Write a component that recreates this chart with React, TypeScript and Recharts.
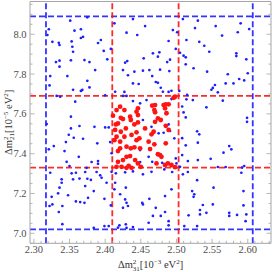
import React from 'react';
import { ScatterChart, Scatter, XAxis, YAxis, ReferenceLine } from 'recharts';

// Blue: 3-sigma scan samples  [Δm²31 (10^-3 eV²), Δm²21 (10^-5 eV²)]
const bluePoints: [number, number][] = [
  [2.351, 8.068], [2.375, 8.085], [2.439, 8.076], [2.413, 8.055], [2.321, 8.025], [2.319, 7.996],
  [2.357, 8.018], [2.366, 8.025], [2.430, 8.008], [2.326, 7.962], [2.335, 7.957], [2.336, 7.946],
  [2.353, 7.964], [2.366, 7.981], [2.369, 7.987], [2.354, 7.937], [2.355, 7.912], [2.390, 7.956],
  [2.394, 7.971], [2.398, 7.916], [2.408, 7.926], [2.403, 7.874], [2.331, 7.860], [2.336, 7.867],
  [2.336, 7.837], [2.352, 7.869], [2.371, 7.870], [2.378, 7.860], [2.386, 7.820], [2.347, 7.790],
  [2.323, 7.790], [2.322, 7.743], [2.355, 7.721], [2.366, 7.715], [2.368, 7.720], [2.375, 7.766],
  [2.378, 7.733], [2.332, 7.690], [2.337, 7.686], [2.358, 7.661], [2.414, 7.711], [2.428, 7.857],
  [2.431, 7.865], [2.425, 7.820], [2.432, 7.794], [2.441, 7.812], [2.439, 7.753], [2.427, 7.710],
  [2.352, 7.586], [2.352, 7.527], [2.364, 7.539], [2.318, 7.549], [2.385, 7.535], [2.349, 7.495],
  [2.509, 8.076], [2.530, 8.068], [2.555, 8.041], [2.590, 8.055], [2.456, 8.041], [2.445, 7.996],
  [2.495, 8.021], [2.501, 8.010], [2.526, 8.031], [2.564, 7.993], [2.586, 8.010], [2.602, 8.026],
  [2.489, 7.966], [2.514, 7.971], [2.532, 7.962], [2.539, 7.942], [2.499, 7.926], [2.505, 7.907],
  [2.546, 7.912], [2.467, 7.904], [2.476, 7.909], [2.474, 7.887], [2.454, 7.879], [2.491, 7.872],
  [2.487, 7.860], [2.510, 7.892], [2.513, 7.884], [2.513, 7.849], [2.584, 7.904], [2.584, 7.890],
  [2.598, 7.874], [2.462, 7.820], [2.453, 7.817], [2.477, 7.822], [2.490, 7.815], [2.524, 7.829],
  [2.543, 7.812], [2.572, 7.799], [2.600, 7.804], [2.588, 7.775], [2.595, 7.768], [2.580, 7.753],
  [2.569, 7.753], [2.554, 7.745], [2.549, 7.721], [2.551, 7.730], [2.558, 7.708], [2.466, 7.790],
  [2.471, 7.760], [2.474, 7.756], [2.478, 7.731], [2.447, 7.750], [2.481, 7.711], [2.493, 7.716],
  [2.489, 7.710], [2.504, 7.715], [2.515, 7.695], [2.514, 7.673], [2.523, 7.669], [2.542, 7.633],
  [2.565, 7.666], [2.599, 7.580], [2.599, 7.560], [2.513, 7.582], [2.529, 7.512], [2.532, 7.497],
  [2.321, 7.422], [2.345, 7.458], [2.356, 7.480], [2.343, 7.413], [2.328, 7.438], [2.369, 7.475],
  [2.389, 7.452], [2.363, 7.384], [2.323, 7.304], [2.346, 7.359], [2.350, 7.338], [2.353, 7.301],
  [2.359, 7.304], [2.374, 7.329], [2.381, 7.358], [2.390, 7.363], [2.390, 7.349], [2.372, 7.308],
  [2.388, 7.308], [2.393, 7.291], [2.395, 7.279], [2.375, 7.274], [2.380, 7.268], [2.355, 7.271],
  [2.364, 7.275], [2.372, 7.237], [2.402, 7.254], [2.413, 7.221], [2.339, 7.271], [2.339, 7.254],
  [2.336, 7.229], [2.334, 7.201], [2.325, 7.183], [2.348, 7.191], [2.359, 7.160], [2.365, 7.157],
  [2.371, 7.153], [2.376, 7.178], [2.384, 7.212], [2.399, 7.173], [2.408, 7.140], [2.322, 7.137],
  [2.326, 7.145], [2.335, 7.107], [2.340, 7.137], [2.340, 7.046], [2.399, 7.036], [2.405, 7.036],
  [2.384, 7.027], [2.420, 7.040], [2.429, 7.045], [2.418, 7.028], [2.430, 7.027], [2.439, 7.031],
  [2.425, 7.128], [2.428, 7.170], [2.429, 7.229], [2.421, 7.196], [2.430, 7.153], [2.432, 7.137],
  [2.414, 7.254], [2.513, 7.442], [2.530, 7.455], [2.516, 7.363], [2.530, 7.368], [2.548, 7.374],
  [2.558, 7.333], [2.569, 7.333], [2.574, 7.438], [2.566, 7.405], [2.577, 7.422], [2.592, 7.330],
  [2.595, 7.338], [2.591, 7.304], [2.516, 7.308], [2.529, 7.267], [2.552, 7.229], [2.493, 7.221],
  [2.484, 7.187], [2.522, 7.212], [2.525, 7.196], [2.524, 7.183], [2.462, 7.173], [2.452, 7.153],
  [2.453, 7.145], [2.471, 7.128], [2.467, 7.087], [2.478, 7.087], [2.484, 7.107], [2.489, 7.061],
  [2.489, 7.040], [2.461, 7.053], [2.511, 7.036], [2.529, 7.036], [2.517, 7.090], [2.533, 7.117],
  [2.533, 7.095], [2.537, 7.142], [2.542, 7.103], [2.551, 7.145], [2.574, 7.103], [2.574, 7.087],
  [2.585, 7.092], [2.594, 7.140], [2.598, 7.095], [2.594, 7.212], [2.597, 7.061],
  [2.400, 7.693], [2.425, 7.690], [2.430, 7.690], [2.439, 7.664], [2.449, 7.653], [2.458, 7.669],
  [2.493, 7.674], [2.508, 7.637], [2.510, 7.607], [2.453, 7.569], [2.465, 7.535], [2.489, 7.547],
  [2.400, 7.532], [2.405, 7.532], [2.475, 7.502], [2.482, 7.505], [2.491, 7.514], [2.508, 7.478],
  [2.497, 7.477], [2.407, 7.458], [2.449, 7.418], [2.409, 7.402], [2.461, 7.384], [2.508, 7.393],
  [2.499, 7.376], [2.449, 7.358], [2.466, 7.359], [2.480, 7.354], [2.500, 7.351], [2.505, 7.334],
  [2.483, 7.321], [2.439, 7.311], [2.415, 7.301], [2.465, 7.309], [2.494, 7.308], [2.428, 7.306],
  [2.409, 7.309], [2.453, 7.296], [2.509, 7.296],
];

// Red: 1-sigma samples
const redPoints: [number, number][] = [
  [2.421, 7.636], [2.427, 7.619], [2.416, 7.619], [2.446, 7.628], [2.444, 7.611], [2.446, 7.594],
  [2.466, 7.641], [2.470, 7.644], [2.469, 7.619], [2.470, 7.608], [2.482, 7.644], [2.485, 7.648],
  [2.489, 7.648], [2.484, 7.628], [2.486, 7.603], [2.496, 7.681], [2.498, 7.686], [2.411, 7.591],
  [2.422, 7.580], [2.425, 7.574], [2.435, 7.586], [2.436, 7.569], [2.418, 7.552], [2.415, 7.547],
  [2.441, 7.547], [2.446, 7.557], [2.470, 7.560], [2.474, 7.577], [2.478, 7.569], [2.485, 7.540],
  [2.429, 7.527], [2.422, 7.510], [2.414, 7.519], [2.456, 7.527], [2.465, 7.497], [2.468, 7.510],
  [2.489, 7.519], [2.444, 7.507], [2.437, 7.494], [2.427, 7.485], [2.416, 7.485], [2.413, 7.468],
  [2.421, 7.460], [2.444, 7.468], [2.448, 7.477], [2.461, 7.460], [2.469, 7.447], [2.485, 7.452],
  [2.421, 7.427], [2.418, 7.413], [2.430, 7.435], [2.436, 7.427], [2.441, 7.432], [2.449, 7.427],
  [2.463, 7.423], [2.474, 7.397], [2.477, 7.393], [2.479, 7.384], [2.430, 7.384], [2.435, 7.388],
  [2.442, 7.368], [2.425, 7.368], [2.418, 7.359], [2.416, 7.334], [2.423, 7.334], [2.430, 7.329],
  [2.433, 7.339], [2.437, 7.329], [2.446, 7.351], [2.450, 7.334], [2.472, 7.351], [2.484, 7.343],
  [2.488, 7.351], [2.493, 7.343], [2.498, 7.332],
];

// Range boundaries (dashed lines)
const sigma3X = [2.317, 2.607];
const sigma3Y = [7.02, 8.09];
const sigma1X = [2.41, 2.503];
const sigma1Y = [7.33, 7.69];

const xDomain: [number, number] = [2.2946, 2.6326];
const yDomain: [number, number] = [6.9497, 8.1644];

const xTicks = [
  2.30, 2.31, 2.32, 2.33, 2.34, 2.35, 2.36, 2.37, 2.38, 2.39, 2.40, 2.41, 2.42, 2.43, 2.44, 2.45, 2.46,
  2.47, 2.48, 2.49, 2.50, 2.51, 2.52, 2.53, 2.54, 2.55, 2.56, 2.57, 2.58, 2.59, 2.60, 2.61, 2.62, 2.63,
];
const xMajor = [2.30, 2.35, 2.40, 2.45, 2.50, 2.55, 2.60];
const yTicks = [
  6.95, 7.00, 7.05, 7.10, 7.15, 7.20, 7.25, 7.30, 7.35, 7.40, 7.45, 7.50, 7.55, 7.60, 7.65, 7.70, 7.75,
  7.80, 7.85, 7.90, 7.95, 8.00, 8.05, 8.10, 8.15,
];
const yMajor = [7.0, 7.2, 7.4, 7.6, 7.8, 8.0];

const FONT = '"Liberation Serif", "Times New Roman", Times, serif';
const FRAME = '#a6a6a6';
const TICKTEXT = '#4d4d4d';
const BLUE = '#1e1eff';
const RED = '#ff1414';

const isMajor = (v: number, list: number[]) => list.some((m) => Math.abs(m - v) < 1e-6);

function BottomTick(props: any) {
  const { x, y, payload } = props;
  const major = isMajor(payload.value, xMajor);
  return (
    <g>
      <line x1={x} x2={x} y1={y} y2={y - (major ? 4.5 : 2.5)} stroke={FRAME} strokeWidth={0.8} />
      {major && (
        <text x={x} y={y + 9.5} textAnchor="middle" fontFamily={FONT} fontSize={10.5} fill={TICKTEXT}>
          {payload.value.toFixed(2)}
        </text>
      )}
    </g>
  );
}

function TopTick(props: any) {
  const { x, y, payload } = props;
  const major = isMajor(payload.value, xMajor);
  return <line x1={x} x2={x} y1={y} y2={y + (major ? 4.5 : 2.5)} stroke={FRAME} strokeWidth={0.8} />;
}

function LeftTick(props: any) {
  const { x, y, payload } = props;
  const major = isMajor(payload.value, yMajor);
  return (
    <g>
      <line x1={x} x2={x + (major ? 4.5 : 2.5)} y1={y} y2={y} stroke={FRAME} strokeWidth={0.8} />
      {major && (
        <text x={x - 3.5} y={y + 3.6} textAnchor="end" fontFamily={FONT} fontSize={10.5} fill={TICKTEXT}>
          {payload.value.toFixed(1)}
        </text>
      )}
    </g>
  );
}

function RightTick(props: any) {
  const { x, y, payload } = props;
  const major = isMajor(payload.value, yMajor);
  return <line x1={x} x2={x - (major ? 4.5 : 2.5)} y1={y} y2={y} stroke={FRAME} strokeWidth={0.8} />;
}

function XTitle(props: any) {
  const vb = props.viewBox || { x: 30, y: 243.3, width: 241, height: 28.7 };
  const cx = vb.x + vb.width / 2;
  return (
    <text x={cx} y={vb.y + 25} textAnchor="middle" fontFamily={FONT} fontSize={10.5} fill="#333">
      Δm<tspan dy={-4} fontSize={7}>2</tspan>
      <tspan dx={-3.5} dy={6.5} fontSize={7}>31</tspan>
      <tspan dy={-2.5}>[10</tspan>
      <tspan dy={-4} fontSize={7}>−3</tspan>
      <tspan dy={4}> eV</tspan>
      <tspan dy={-4} fontSize={7}>2</tspan>
      <tspan dy={4}>]</tspan>
    </text>
  );
}

function YTitle(props: any) {
  const vb = props.viewBox || { x: 0, y: 1.5, width: 30, height: 241.8 };
  const cy = vb.y + vb.height / 2;
  const tx = vb.x + 12;
  return (
    <text
      x={tx}
      y={cy}
      transform={`rotate(-90, ${tx}, ${cy})`}
      textAnchor="middle"
      fontFamily={FONT}
      fontSize={10.5}
      fill="#333"
    >
      Δm<tspan dy={-4} fontSize={7}>2</tspan>
      <tspan dx={-3.5} dy={6.5} fontSize={7}>21</tspan>
      <tspan dy={-2.5}>[10</tspan>
      <tspan dy={-4} fontSize={7}>−5</tspan>
      <tspan dy={4}> eV</tspan>
      <tspan dy={-4} fontSize={7}>2</tspan>
      <tspan dy={4}>]</tspan>
    </text>
  );
}

const blueData = bluePoints.map(([x, y]) => ({ x, y }));
const redData = redPoints.map(([x, y]) => ({ x, y }));

const BlueDot = (p: any) => <circle cx={p.cx} cy={p.cy} r={1.35} fill={BLUE} />;
const RedDot = (p: any) => <circle cx={p.cx} cy={p.cy} r={2.4} fill={RED} />;

export default function App() {
  return (
    <div style={{ position: 'absolute', left: 0, top: 0, width: 272, height: 272, background: '#fff' }}>
      <ScatterChart width={272} height={272} margin={{ top: 0, right: 0, bottom: 0, left: 0 }}>
        <XAxis
          xAxisId={0}
          dataKey="x"
          type="number"
          domain={xDomain}
          allowDataOverflow
          ticks={xTicks}
          interval={0}
          height={28.7}
          tickSize={0}
          tickMargin={0}
          tickLine={false}
          tick={<BottomTick />}
          axisLine={{ stroke: FRAME, strokeWidth: 1 }}
          label={<XTitle />}
        />
        <XAxis
          xAxisId="top"
          orientation="top"
          type="number"
          domain={xDomain}
          allowDataOverflow
          ticks={xTicks}
          interval={0}
          height={1.5}
          tickSize={0}
          tickMargin={0}
          tickLine={false}
          tick={<TopTick />}
          axisLine={{ stroke: FRAME, strokeWidth: 1 }}
        />
        <YAxis
          yAxisId={0}
          dataKey="y"
          type="number"
          domain={yDomain}
          allowDataOverflow
          ticks={yTicks}
          interval={0}
          width={30}
          tickSize={0}
          tickMargin={0}
          tickLine={false}
          tick={<LeftTick />}
          axisLine={{ stroke: FRAME, strokeWidth: 1 }}
          label={<YTitle />}
        />
        <YAxis
          yAxisId="right"
          orientation="right"
          type="number"
          domain={yDomain}
          allowDataOverflow
          ticks={yTicks}
          interval={0}
          width={1}
          tickSize={0}
          tickMargin={0}
          tickLine={false}
          tick={<RightTick />}
          axisLine={{ stroke: FRAME, strokeWidth: 1 }}
        />
        <Scatter data={blueData} fill={BLUE} shape={BlueDot} isAnimationActive={false} />
        <Scatter data={redData} fill={RED} shape={RedDot} isAnimationActive={false} />
        {sigma3X.map((v) => (
          <ReferenceLine key={`b3x${v}`} x={v} stroke={BLUE} strokeWidth={1.8} strokeDasharray="6 3" strokeOpacity={0.9} />
        ))}
        {sigma3Y.map((v) => (
          <ReferenceLine key={`b3y${v}`} y={v} stroke={BLUE} strokeWidth={1.8} strokeDasharray="6 3" strokeOpacity={0.9} />
        ))}
        {sigma1X.map((v) => (
          <ReferenceLine key={`r1x${v}`} x={v} stroke={RED} strokeWidth={1.8} strokeDasharray="6 3" strokeOpacity={0.9} />
        ))}
        {sigma1Y.map((v) => (
          <ReferenceLine key={`r1y${v}`} y={v} stroke={RED} strokeWidth={1.8} strokeDasharray="6 3" strokeOpacity={0.9} />
        ))}
      </ScatterChart>
    </div>
  );
}
